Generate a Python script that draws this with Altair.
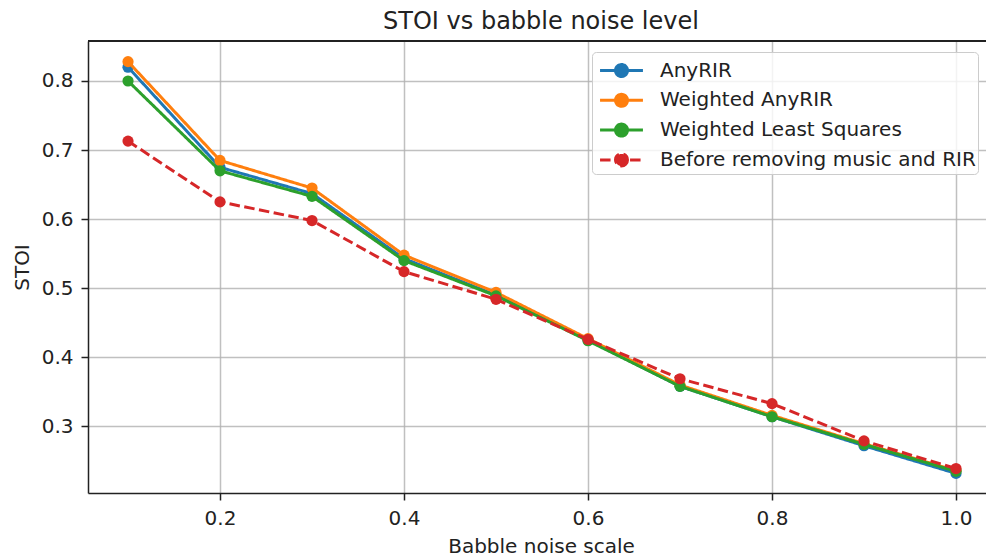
import altair as alt
import pandas as pd

noise_scale = [0.1, 0.2, 0.3, 0.4, 0.5, 0.6, 0.7, 0.8, 0.9, 1.0]
series_names = ["AnyRIR", "Weighted AnyRIR", "Weighted Least Squares", "Before removing music and RIR"]
any_rir = [0.820, 0.675, 0.637, 0.543, 0.490, 0.425, 0.358, 0.314, 0.272, 0.232]
weighted_any_rir = [0.828, 0.685, 0.645, 0.548, 0.494, 0.427, 0.360, 0.316, 0.275, 0.236]
weighted_ls = [0.800, 0.670, 0.633, 0.540, 0.489, 0.424, 0.358, 0.314, 0.274, 0.235]
before_removal = [0.713, 0.625, 0.598, 0.524, 0.484, 0.426, 0.369, 0.333, 0.279, 0.239]
x_ticks = [0.2, 0.4, 0.6, 0.8, 1.0]
y_ticks = [0.3, 0.4, 0.5, 0.6, 0.7, 0.8]

colors = ["#1f77b4", "#ff7f0e", "#2ca02c", "#d62728"]
dashes = [[1, 0], [1, 0], [1, 0], [10.5, 4.5]]

all_values = [any_rir, weighted_any_rir, weighted_ls, before_removal]
frames = []
for name, vals in zip(series_names, all_values):
    frames.append(pd.DataFrame({"x": noise_scale, "y": vals, "series": name}))

FONT = "DejaVu Sans"
x_dom = [0.0565, 1.0326]
y_dom = [0.2036, 0.8579]

x_scale = alt.Scale(domain=x_dom, nice=False, zero=False)
y_scale = alt.Scale(domain=y_dom, nice=False, zero=False)

x_axis = alt.Axis(values=x_ticks, format=".1f", title="Babble noise scale",
                  titleX=453, titleY=53, titleBaseline="middle",
                  titleAlign="center")
y_axis = alt.Axis(values=y_ticks, format=".1f", title="STOI",
                  titleX=-66, titleY=226, titleBaseline="middle", titleAlign="center",
                  titleAngle=-90)

legend = alt.Legend(
    title=None, orient="none", legendX=504, legendY=11,
    symbolType="M-1.43,0H1.43M0.4,0A0.4,0.4,0,1,1,-0.4,0A0.4,0.4,0,1,1,0.4,0Z",
    symbolSize=900, symbolStrokeWidth=3, symbolOffset=11,
    labelFontSize=20, labelFont=FONT, labelColor="#222", labelOffset=22,
    labelLimit=500,
    padding=2, rowPadding=0.8,
    fillColor="rgba(255,255,255,0.8)", strokeColor="#cccccc", cornerRadius=4,
)

stroke_scale = alt.Scale(domain=series_names, range=colors)
fill_scale = alt.Scale(domain=series_names, range=colors)
dash_scale = alt.Scale(domain=series_names, range=dashes)

layers = []
for i, df in enumerate(frames):
    base = alt.Chart(df)
    line = base.mark_line(strokeWidth=3).encode(
        x=alt.X("x:Q", scale=x_scale, axis=x_axis),
        y=alt.Y("y:Q", scale=y_scale, axis=y_axis),
        stroke=alt.Stroke("series:N", scale=stroke_scale, legend=legend),
        strokeDash=alt.StrokeDash("series:N", scale=dash_scale, legend=legend),
    )
    pts = base.mark_circle(size=125, opacity=1).encode(
        x=alt.X("x:Q", scale=x_scale, axis=x_axis),
        y=alt.Y("y:Q", scale=y_scale, axis=y_axis),
        fill=alt.Fill("series:N", scale=fill_scale, legend=legend),
    )
    layers += [line, pts]

# top frame line of the plot area
top_frame = alt.Chart(frames[0]).mark_rule(color="#222", strokeWidth=1.5).encode(
    x=alt.value(0), x2=alt.value(898), y=alt.value(0),
)
layers.append(top_frame)

chart = alt.layer(*layers).properties(
    width=898, height=452,
    autosize=alt.AutoSizeParams(type="none"),
    padding={"left": 88, "top": 41, "right": 0, "bottom": 67},
    title=alt.Title("STOI vs babble noise level", font=FONT, fontSize=24,
                    fontWeight="normal", color="#222", offset=12,
                    baseline="alphabetic", dx=4, dy=25),
).configure_view(stroke=None).configure_axis(
    labelFont=FONT, labelFontSize=20, labelColor="#222", labelPadding=8,
    titleFont=FONT, titleFontSize=20, titleColor="#222", titleFontWeight="normal",
    domainColor="#222", domainWidth=1.5,
    tickColor="#222", tickSize=7, tickWidth=1.5,
    gridColor="#b0b0b0", gridWidth=1.5, gridOpacity=0.8,
)

chart.save("out.html", embed_options={"renderer": "svg", "actions": False})
